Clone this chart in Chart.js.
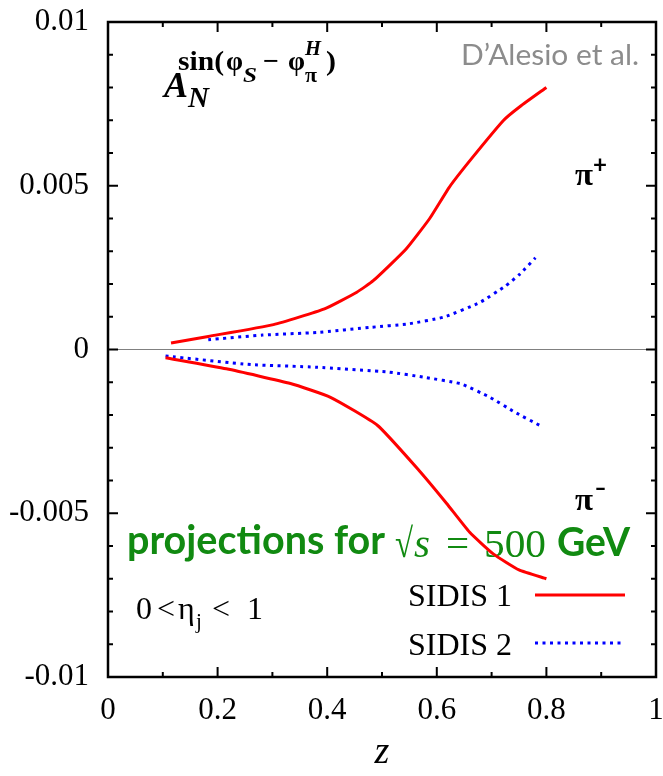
<!DOCTYPE html>
<html>
<head>
<meta charset="utf-8">
<script src="https://cdn.jsdelivr.net/npm/chart.js@4.4.1/dist/chart.umd.min.js"></script>
<style>
  html, body { margin: 0; padding: 0; background: #fff; }
  canvas { display: block; }
</style>
</head>
<body>
<canvas id="asymChart" width="663" height="776"></canvas>
<script>
// ---- data ----
const seriesNames = ["SIDIS 1", "SIDIS 2"];

const zS1Plus = [0.115, 0.183, 0.302, 0.395, 0.454, 0.484, 0.544, 0.587, 0.623, 0.663, 0.722, 0.752, 0.800];
const aS1Plus = [0.0002, 0.0004, 0.00076, 0.00124, 0.00175, 0.0021, 0.00307, 0.0040, 0.00496, 0.00582, 0.0070, 0.00742, 0.0080];

const zS2Plus = [0.183, 0.282, 0.381, 0.481, 0.547, 0.613, 0.679, 0.726, 0.752, 0.780];
const aS2Plus = [0.0003, 0.00044, 0.00052, 0.00068, 0.00078, 0.00099, 0.00144, 0.00195, 0.00231, 0.0028];

const zS1Minus = [0.105, 0.216, 0.333, 0.406, 0.492, 0.568, 0.618, 0.660, 0.703, 0.750, 0.800];
const aS1Minus = [-0.00025, -0.00059, -0.00104, -0.00146, -0.00232, -0.0037, -0.0047, -0.00558, -0.00624, -0.00673, -0.0070];

const zS2Minus = [0.105, 0.261, 0.380, 0.512, 0.578, 0.644, 0.697, 0.742, 0.788];
const aS2Minus = [-0.0002, -0.00046, -0.00054, -0.00069, -0.00085, -0.00105, -0.00146, -0.00191, -0.00232];

const xTickValues = [0, 0.2, 0.4, 0.6, 0.8, 1];
const xTickLabels = ["0", "0.2", "0.4", "0.6", "0.8", "1"];
const yTickValues = [-0.01, -0.005, 0, 0.005, 0.01];
const yTickLabels = ["-0.01", "-0.005", "0", "0.005", "0.01"];

// ---- helpers ----
const SERIF = '"Liberation Serif", "Times New Roman", serif';
const SANS = 'Lato, "Open Sans", sans-serif';
const RED = "#ff0000";
const BLUE = "#0000ff";
const GREEN = "#118a11";

function toPoints(zs, as) {
  return zs.map((z, i) => ({ x: z, y: as[i] }));
}

function labelFor(v, values, labels) {
  const i = values.findIndex((t) => Math.abs(t - v) < 1e-9);
  return i < 0 ? "" : labels[i];
}

// draw text at (x, baseline y); optionally stretch horizontally to a target width
function text(ctx, str, x, y, font, color, width) {
  ctx.save();
  ctx.font = font;
  ctx.fillStyle = color;
  ctx.textAlign = "left";
  ctx.textBaseline = "alphabetic";
  if (width) {
    const w = ctx.measureText(str).width;
    ctx.translate(x, y);
    ctx.scale(width / w, 1);
    ctx.fillText(str, 0, 0);
  } else {
    ctx.fillText(str, x, y);
  }
  ctx.restore();
}

// no extra room for edge labels: the plot box is fixed
function fixBox(s, size) {
  if (s.isHorizontal()) s.height = size; else s.width = size;
  s.paddingTop = s.paddingBottom = s.paddingLeft = s.paddingRight = 0;
}

const curveStyle = [
  { borderColor: RED, borderWidth: 3, borderDash: [] },
  { borderColor: BLUE, borderWidth: 3, borderDash: [3, 4.5] },
];

function dataset(label, pts, style) {
  return {
    label,
    data: pts,
    showLine: true,
    pointRadius: 0,
    tension: 0.15,
    fill: false,
    borderColor: style.borderColor,
    borderWidth: style.borderWidth,
    borderDash: style.borderDash,
    borderCapStyle: "butt",
  };
}

// ---- decorations: frame, inward ticks, zero line, annotations, legend ----
const decorations = {
  id: "decorations",
  beforeDatasetsDraw(chart) {
    const { ctx, chartArea: a, scales: { y } } = chart;
    const y0 = y.getPixelForValue(0);
    ctx.save();
    ctx.strokeStyle = "#808080";
    ctx.lineWidth = 1;
    ctx.beginPath();
    ctx.moveTo(a.left, y0);
    ctx.lineTo(a.right, y0);
    ctx.stroke();
    ctx.restore();

    // A_N^{sin(phi_S - phi_pi^H)}
    const b = "#000";
    text(ctx, "A", 164, 97, `italic bold 36px ${SERIF}`, b);
    text(ctx, "N", 188, 107, `italic bold 29px ${SERIF}`, b);
    text(ctx, "sin(", 178, 70, `bold 28px ${SERIF}`, b, 46);
    text(ctx, "\u03c6", 226, 70, `bold 28px ${SERIF}`, b, 17);
    text(ctx, "S", 243, 82, `italic bold 21px ${SERIF}`, b, 14);
    text(ctx, "\u2212", 263, 70, `bold 28px ${SERIF}`, b, 16);
    text(ctx, "\u03c6", 288, 70, `bold 28px ${SERIF}`, b, 17);
    text(ctx, "H", 305, 55, `italic bold 20px ${SERIF}`, b, 16);
    text(ctx, "\u03c0", 305, 82, `bold 20px ${SERIF}`, b, 12);
    text(ctx, ")", 326, 70, `bold 28px ${SERIF}`, b, 10);

    text(ctx, "D\u2019Alesio et al.", 461, 65, `28px ${SANS}`, "#8c8c8c", 178);

    text(ctx, "\u03c0", 575, 185, `bold 31px ${SERIF}`, b, 18);
    text(ctx, "+", 593, 173, `bold 24px ${SANS}`, b, 14);
    text(ctx, "\u03c0", 575, 510, `bold 31px ${SERIF}`, b, 18);
    text(ctx, "\u2212", 595, 497, `bold 24px ${SANS}`, b, 11);

    // green projection note
    text(ctx, "projections for", 127, 554, `bold 41px ${SANS}`, GREEN, 258);
    text(ctx, "\u221a", 395, 557, `41px ${SERIF}`, GREEN, 18);
    text(ctx, "s", 414, 557, `italic 41px ${SERIF}`, GREEN);
    text(ctx, "=", 446, 557, `41px ${SERIF}`, GREEN);
    text(ctx, "500", 484, 557, `41px ${SERIF}`, GREEN, 62);
    text(ctx, "GeV", 557, 556, `bold 41px ${SANS}`, GREEN, 73);

    // 0 < eta_j < 1
    const f = `32px ${SERIF}`;
    text(ctx, "0", 136, 619, f, b);
    text(ctx, "<", 157, 619, f, b);
    text(ctx, "\u03b7", 178, 619, f, b);
    text(ctx, "j", 196, 628, `21px ${SERIF}`, b);
    text(ctx, "<", 212, 619, f, b);
    text(ctx, "1", 247, 619, f, b);
  },
  afterDraw(chart) {
    const { ctx, chartArea: a, scales: { x, y } } = chart;
    ctx.save();
    ctx.strokeStyle = "#000";
    ctx.lineWidth = 2;
    ctx.beginPath();
    x.ticks.forEach((t) => {
      const px = x.getPixelForValue(t.value);
      const len = labelFor(t.value, xTickValues, xTickLabels) ? 10 : 5;
      ctx.moveTo(px, a.bottom); ctx.lineTo(px, a.bottom - len);
      ctx.moveTo(px, a.top); ctx.lineTo(px, a.top + len);
    });
    y.ticks.forEach((t) => {
      const py = y.getPixelForValue(t.value);
      const len = labelFor(t.value, yTickValues, yTickLabels) ? 10 : 5;
      ctx.moveTo(a.left, py); ctx.lineTo(a.left + len, py);
      ctx.moveTo(a.right, py); ctx.lineTo(a.right - len, py);
    });
    ctx.stroke();
    ctx.lineWidth = 2.5;
    ctx.strokeRect(a.left, a.top, a.width, a.height);

    // legend (text left, sample line right)
    const rows = [{ yText: 606, yLine: 595 }, { yText: 655, yLine: 643 }];
    seriesNames.forEach((name, i) => {
      text(ctx, name, 408, rows[i].yText, `32px ${SERIF}`, "#000", 104);
      const st = curveStyle[i];
      ctx.save();
      ctx.strokeStyle = st.borderColor;
      ctx.lineWidth = st.borderWidth;
      ctx.setLineDash(st.borderDash);
      ctx.beginPath();
      ctx.moveTo(535, rows[i].yLine);
      ctx.lineTo(625, rows[i].yLine);
      ctx.stroke();
      ctx.restore();
    });
    ctx.restore();
  },
};

new Chart(document.getElementById("asymChart"), {
  type: "scatter",
  data: {
    datasets: [
      dataset(seriesNames[0] + " \u03c0+", toPoints(zS1Plus, aS1Plus), curveStyle[0]),
      dataset(seriesNames[1] + " \u03c0+", toPoints(zS2Plus, aS2Plus), curveStyle[1]),
      dataset(seriesNames[0] + " \u03c0-", toPoints(zS1Minus, aS1Minus), curveStyle[0]),
      dataset(seriesNames[1] + " \u03c0-", toPoints(zS2Minus, aS2Minus), curveStyle[1]),
    ],
  },
  options: {
    responsive: false,
    animation: false,
    devicePixelRatio: 1,
    layout: { autoPadding: false, padding: { top: 22, right: 7, left: 0, bottom: 0 } },
    plugins: { legend: { display: false }, tooltip: { enabled: false } },
    scales: {
      x: {
        type: "linear",
        min: 0,
        max: 1,
        afterFit: (s) => fixBox(s, 99),
        grid: { display: false, drawTicks: false },
        border: { display: false },
        ticks: {
          stepSize: 0.1,
          autoSkip: false,
          maxRotation: 0,
          padding: 15,
          color: "#000",
          font: { family: SERIF, size: 31 },
          callback: (v) => labelFor(v, xTickValues, xTickLabels),
        },
        title: {
          display: true,
          text: "z",
          color: "#000",
          font: { family: SERIF, size: 38, style: "italic" },
          padding: { top: 0, bottom: 0 },
        },
      },
      y: {
        type: "linear",
        min: -0.01,
        max: 0.01,
        afterFit: (s) => fixBox(s, 108),
        grid: { display: false, drawTicks: false },
        border: { display: false },
        ticks: {
          stepSize: 0.001,
          autoSkip: false,
          padding: 19,
          color: "#000",
          font: { family: SERIF, size: 31 },
          callback: (v) => labelFor(v, yTickValues, yTickLabels),
        },
      },
    },
  },
  plugins: [decorations],
});
</script>
</body>
</html>
